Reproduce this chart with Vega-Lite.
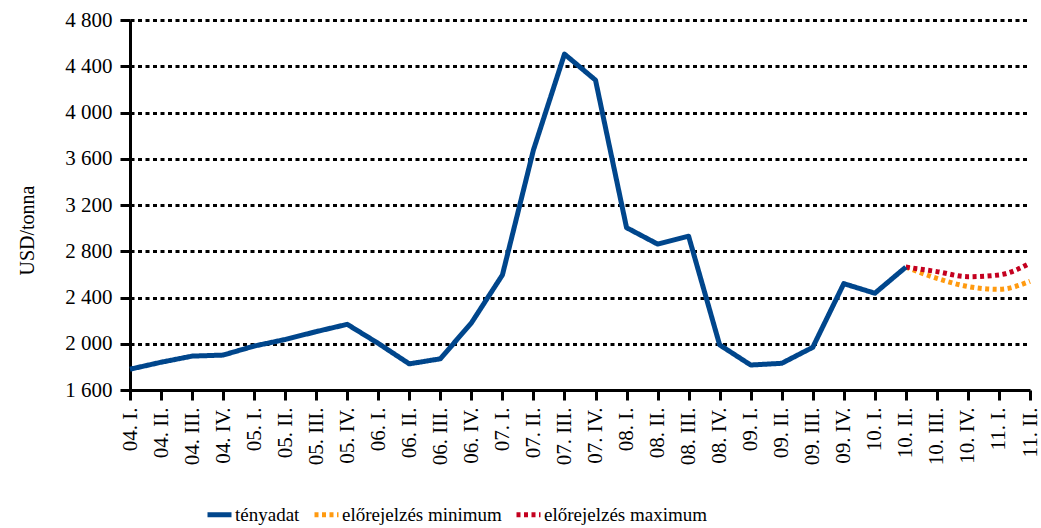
{
  "$schema": "https://vega.github.io/schema/vega-lite/v6.json",
  "width": 900,
  "height": 370,
  "autosize": {"type": "none"},
  "padding": {"left": 130, "top": 20, "right": 11, "bottom": 138},
  "background": "white",
  "config": {"view": {"stroke": null}, "font": "Liberation Serif"},
  "data": {
    "values": [
      {"q": "04. I.", "s": "tényadat", "v": 1780},
      {"q": "04. II.", "s": "tényadat", "v": 1840},
      {"q": "04. III.", "s": "tényadat", "v": 1893},
      {"q": "04. IV.", "s": "tényadat", "v": 1902},
      {"q": "05. I.", "s": "tényadat", "v": 1980},
      {"q": "05. II.", "s": "tényadat", "v": 2037},
      {"q": "05. III.", "s": "tényadat", "v": 2105},
      {"q": "05. IV.", "s": "tényadat", "v": 2168},
      {"q": "06. I.", "s": "tényadat", "v": 2003},
      {"q": "06. II.", "s": "tényadat", "v": 1826},
      {"q": "06. III.", "s": "tényadat", "v": 1870},
      {"q": "06. IV.", "s": "tényadat", "v": 2180},
      {"q": "07. I.", "s": "tényadat", "v": 2595},
      {"q": "07. II.", "s": "tényadat", "v": 3676},
      {"q": "07. III.", "s": "tényadat", "v": 4505},
      {"q": "07. IV.", "s": "tényadat", "v": 4280},
      {"q": "08. I.", "s": "tényadat", "v": 3004},
      {"q": "08. II.", "s": "tényadat", "v": 2862},
      {"q": "08. III.", "s": "tényadat", "v": 2930},
      {"q": "08. IV.", "s": "tényadat", "v": 1990},
      {"q": "09. I.", "s": "tényadat", "v": 1816},
      {"q": "09. II.", "s": "tényadat", "v": 1831},
      {"q": "09. III.", "s": "tényadat", "v": 1969},
      {"q": "09. IV.", "s": "tényadat", "v": 2520},
      {"q": "10. I.", "s": "tényadat", "v": 2437},
      {"q": "10. II.", "s": "tényadat", "v": 2663},
      {"q": "10. II.", "s": "előrejelzés minimum", "v": 2663},
      {"q": "10. III.", "s": "előrejelzés minimum", "v": 2566},
      {"q": "10. IV.", "s": "előrejelzés minimum", "v": 2495},
      {"q": "11. I.", "s": "előrejelzés minimum", "v": 2471},
      {"q": "11. II.", "s": "előrejelzés minimum", "v": 2540},
      {"q": "10. II.", "s": "előrejelzés maximum", "v": 2663},
      {"q": "10. III.", "s": "előrejelzés maximum", "v": 2624},
      {"q": "10. IV.", "s": "előrejelzés maximum", "v": 2580},
      {"q": "11. I.", "s": "előrejelzés maximum", "v": 2595},
      {"q": "11. II.", "s": "előrejelzés maximum", "v": 2696}
    ]
  },
  "encoding": {
    "x": {
      "field": "q",
      "type": "ordinal",
      "scale": {
        "type": "point",
        "padding": 0,
        "domain": ["04. I.", "04. II.", "04. III.", "04. IV.", "05. I.", "05. II.", "05. III.", "05. IV.", "06. I.", "06. II.", "06. III.", "06. IV.", "07. I.", "07. II.", "07. III.", "07. IV.", "08. I.", "08. II.", "08. III.", "08. IV.", "09. I.", "09. II.", "09. III.", "09. IV.", "10. I.", "10. II.", "10. III.", "10. IV.", "11. I.", "11. II."]
      },
      "axis": {
        "title": null,
        "labelAngle": -90,
        "labelFontSize": 21,
        "labelColor": "black",
        "labelPadding": 7,
        "domainWidth": 3,
        "domainColor": "black",
        "tickWidth": 3,
        "tickSize": 10,
        "tickColor": "black",
        "grid": false
      }
    },
    "y": {
      "field": "v",
      "type": "quantitative",
      "scale": {"domain": [1600, 4800], "nice": false, "zero": false},
      "axis": {
        "title": "USD/tonna",
        "titleFontSize": 20,
        "titleFontWeight": "normal",
        "titleColor": "black",
        "titleAngle": 270,
        "titleBaseline": "alphabetic",
        "titleX": -97,
        "titleY": 210,
        "values": [1600, 2000, 2400, 2800, 3200, 3600, 4000, 4400, 4800],
        "labelExpr": "replace(format(datum.value, ',d'), ',', ' ')",
        "labelFontSize": 21,
        "labelColor": "black",
        "labelPadding": 8,
        "domainWidth": 3,
        "domainColor": "black",
        "tickWidth": 3,
        "tickSize": 10,
        "tickColor": "black",
        "grid": true,
        "gridColor": "black",
        "gridWidth": 3,
        "gridDash": [4, 3.5]
      }
    },
    "color": {
      "field": "s",
      "type": "nominal",
      "scale": {
        "domain": ["tényadat", "előrejelzés minimum", "előrejelzés maximum"],
        "range": ["#00468C", "#FF9A10", "#C4001F"]
      },
      "legend": {
        "title": null,
        "orient": "none",
        "legendX": 75,
        "legendY": 480,
        "direction": "horizontal",
        "symbolType": "stroke",
        "symbolSize": 576,
        "symbolStrokeWidth": 5,
        "labelFontSize": 19,
        "labelColor": "black",
        "labelLimit": 400,
        "labelOffset": 1,
        "columnPadding": 4
      }
    },
    "strokeDash": {
      "field": "s",
      "type": "nominal",
      "scale": {
        "domain": ["tényadat", "előrejelzés minimum", "előrejelzés maximum"],
        "range": [[1, 0], [4, 3.5], [4, 3.5]]
      },
      "legend": {
        "title": null,
        "orient": "none",
        "legendX": 75,
        "legendY": 480,
        "direction": "horizontal",
        "symbolType": "stroke",
        "symbolSize": 576,
        "symbolStrokeWidth": 5,
        "labelFontSize": 19,
        "labelColor": "black",
        "labelLimit": 400,
        "labelOffset": 1,
        "columnPadding": 4
      }
    }
  },
  "layer": [
    {
      "transform": [{"filter": "datum.s !== 'tényadat'"}],
      "mark": {"type": "line", "interpolate": "monotone", "strokeWidth": 5, "strokeCap": "butt"}
    },
    {
      "transform": [{"filter": "datum.s === 'tényadat'"}],
      "mark": {"type": "line", "strokeWidth": 5, "strokeJoin": "round"}
    }
  ]
}
